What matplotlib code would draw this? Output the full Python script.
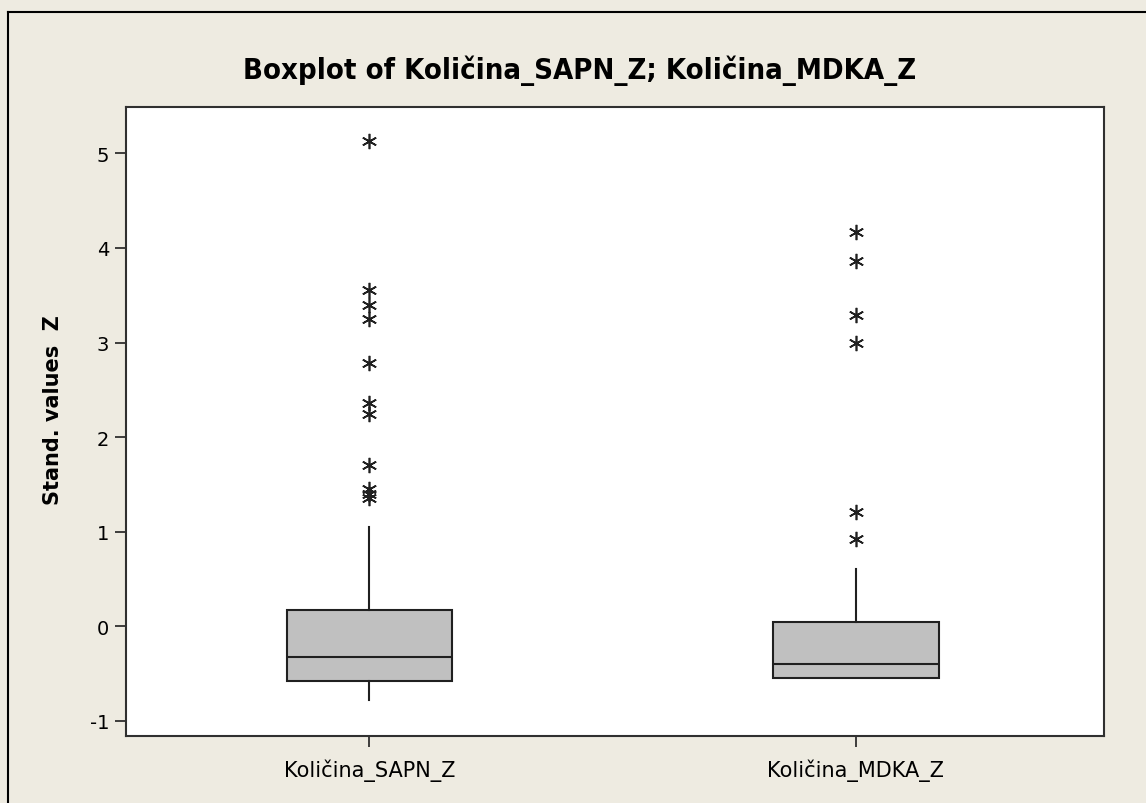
"""
Boxplot of standardized values for two variables (Minitab style).
"""

import matplotlib
matplotlib.use("Agg")
import matplotlib.pyplot as plt

# Data
labels = ["Količina_SAPN_Z", "Količina_MDKA_Z"]
medians = [-0.32, -0.40]
q1 = [-0.58, -0.55]
q3 = [0.17, 0.04]
whisker_low = [-0.78, -0.55]
whisker_high = [1.05, 0.61]
outliers_sapn = [5.13, 3.55, 3.40, 3.25, 2.78, 2.36, 2.24, 1.71, 1.45, 1.40, 1.36]
outliers_mdka = [4.17, 3.86, 3.29, 2.99, 1.21, 0.92]
y_ticks = [-1, 0, 1, 2, 3, 4, 5]

BG = "#EEEBE1"


def main():
    fig = plt.figure(figsize=(11.46, 8.04), dpi=100, facecolor=BG)
    ax = fig.add_axes([126 / 1146, 1 - 737 / 804, (1104 - 126) / 1146, (737 - 108) / 804])

    # outer frame (only left/top visible in the reference crop)
    fig.add_artist(plt.Line2D([8 / 1146, 8 / 1146], [0, 1 - 13 / 804],
                              transform=fig.transFigure, color="black", lw=1.5))
    fig.add_artist(plt.Line2D([8 / 1146, 1], [1 - 13 / 804, 1 - 13 / 804],
                              transform=fig.transFigure, color="black", lw=1.5))

    stats = []
    fliers = [outliers_sapn, outliers_mdka]
    for i, lab in enumerate(labels):
        stats.append({
            "label": lab,
            "med": medians[i],
            "q1": q1[i],
            "q3": q3[i],
            "whislo": whisker_low[i],
            "whishi": whisker_high[i],
            "fliers": fliers[i],
        })

    ax.bxp(stats, positions=[1, 2], widths=0.34, patch_artist=True,
           showcaps=False,
           boxprops=dict(facecolor="#C0C0C0", edgecolor="#202020", linewidth=1.5),
           medianprops=dict(color="#202020", linewidth=1.5),
           whiskerprops=dict(color="#202020", linewidth=1.5),
           flierprops=dict(marker=(6, 2, 0), markersize=11, markeredgecolor="#202020",
                           markeredgewidth=1.2, linestyle="none"))

    ax.set_xlim(0.5, 2.51)
    ax.set_ylim(-1.16, 5.49)
    ax.set_yticks(y_ticks)
    ax.set_yticklabels([str(t) for t in y_ticks], fontsize=14)
    ax.set_xticks([1, 2])
    ax.set_xticklabels(labels, fontsize=15)
    ax.tick_params(direction="out", length=8, width=1.2, color="#202020", pad=4)
    ax.tick_params(axis="x", pad=8)
    for s in ax.spines.values():
        s.set_linewidth(1.5)
        s.set_color("#303030")

    ax.set_ylabel("Stand. values  Z", fontsize=15, fontweight="bold")
    ax.yaxis.set_label_coords(-0.064, 0.52)
    fig.text(580 / 1146, 1 - 71 / 804, "Boxplot of Količina_SAPN_Z; Količina_MDKA_Z",
             ha="center", va="center", fontsize=21, fontweight="bold",
             fontstretch="condensed")

    fig.savefig("out.png", dpi=100, facecolor=BG)


if __name__ == "__main__":
    main()
